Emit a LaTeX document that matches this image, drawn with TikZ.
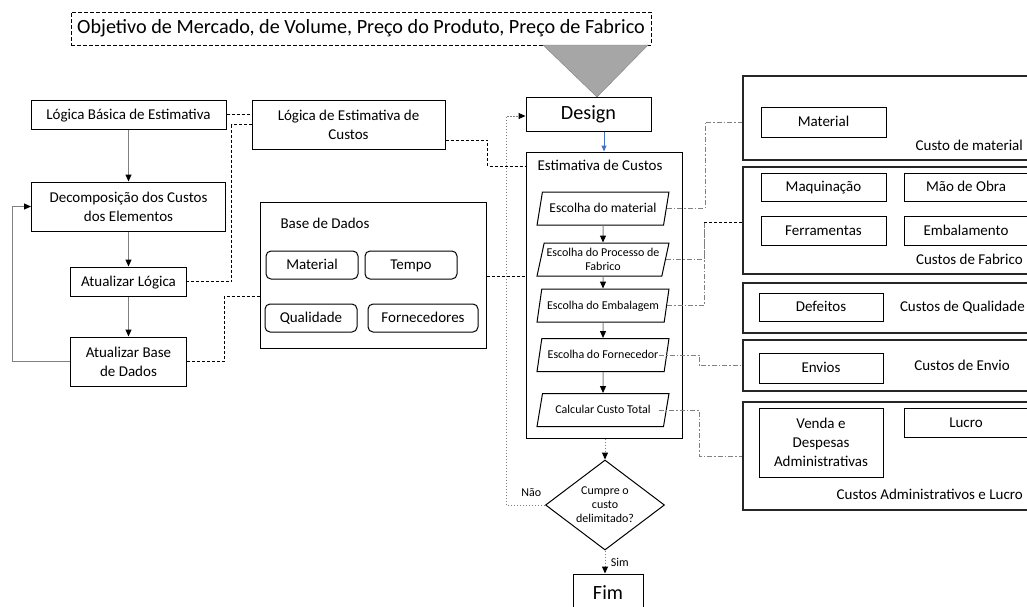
\documentclass[tikz,border=0pt]{standalone}
\usepackage{fontspec}
\setmainfont{Carlito}
\usetikzlibrary{arrows.meta, calc, positioning, shapes.geometric}
\definecolor{linhaCinza}{RGB}{128,128,128}
\definecolor{trianguloCinza}{RGB}{166,166,166}
\definecolor{setaAzul}{RGB}{68,114,196}

\tikzset{
  normal/.style={font=\fontsize{15}{18.8}\selectfont},
  pequena/.style={font=\fontsize{12}{14}\selectfont},
  grande/.style={font=\fontsize{20.2}{23}\selectfont},
  um/.style={text height=13pt, text depth=3.4pt},
  umP/.style={text height=10.6pt, text depth=2.8pt},
  caixa/.style={draw=black, line width=1pt, rectangle, align=center, inner sep=1pt, normal},
  caixaR/.style={caixa, um, rounded corners=5pt, minimum width=92, minimum height=28},
  grupo/.style={draw=black!85, line width=1.3pt, rectangle, minimum width=297},
  paralelo/.style={draw=black, line width=1pt, trapezium, trapezium left angle=74,
    trapezium right angle=106, trapezium stretches=true, align=center, inner sep=1pt,
    minimum width=132, minimum height=33, pequena},
  losango/.style={draw=black, line width=1pt, diamond, aspect=1.32, inner sep=0pt,
    minimum width=119, minimum height=90, align=center, pequena},
  seta/.style={-{Triangle[color=black, length=7pt, width=6pt]}},
  linhaSeta/.style={draw=linhaCinza, line width=1pt, seta},
  tracoPreto/.style={draw=black, line width=0.9pt, dash pattern=on 3pt off 2pt},
  tracoPonto/.style={draw=linhaCinza, line width=1pt, dash pattern=on 5pt off 2pt on 1.5pt off 2pt},
  pontilhado/.style={draw=linhaCinza, line width=1pt, dash pattern=on 1.5pt off 1.5pt}
}

\begin{document}
\begin{tikzpicture}[x=1pt, y=-1pt]
  \useasboundingbox (0,0) rectangle (1027,606);

  % 1. OBJETIVO E DESIGN
  \node[caixa, grande, dash pattern=on 4pt off 2pt, minimum width=580, minimum height=33]
    (objetivo) at (361,28.5) {Objetivo de Mercado, de Volume, Preço do Produto, Preço de Fabrico};
  \filldraw[fill=trianguloCinza, draw=linhaCinza] (543,45) -- (648,45) -- (597,97) -- cycle;
  \node[caixa, grande, minimum width=125, minimum height=34] (design) at (588.5,114) {Design};

  % 2. COLUNA ESQUERDA
  \node[caixa, um, minimum width=195, minimum height=29] (lbasica) at (128.5,114.5) {Lógica Básica de Estimativa};
  \node[caixa, minimum width=194, minimum height=49] (decomp) at (128.5,206.5) {Decomposição dos Custos\\dos Elementos};
  \node[caixa, um, minimum width=116, minimum height=29] (atlogica) at (128.5,281.5) {Atualizar Lógica};
  \node[caixa, minimum width=116, minimum height=49] (atbase) at (128.5,361.5) {Atualizar Base\\de Dados};
  \node[caixa, minimum width=193, minimum height=49] (lcustos) at (348.5,124.5) {Lógica de Estimativa de\\Custos};

  % Base de dados
  \node[caixa, minimum width=226, minimum height=146] (bdados) at (373,275) {};
  \node[normal, um, inner sep=0pt] (bdtitulo) at (325,224) {Base de Dados};
  \node[caixaR] (bdmaterial) at (312,265) {Material};
  \node[caixaR] (bdtempo) at (411,265) {Tempo};
  \node[caixaR] (bdqualidade) at (311,318) {Qualidade};
  \node[caixaR, minimum width=110] (bdfornec) at (423,318) {Fornecedores};

  % 3. ESTIMATIVA DE CUSTOS
  \node[caixa, minimum width=156, minimum height=286] (estim) at (604,295) {};
  \node[normal, um, inner sep=0pt] (esttitulo) at (600,166) {Estimativa de Custos};
  \node[paralelo, font=\fontsize{13.5}{15}\selectfont, text height=11.8pt, text depth=3.1pt] (p1) at (603,208.5) {Escolha do material};
  \node[paralelo] (p2) at (603,259.5) {Escolha do Processo de\\Fabrico};
  \node[paralelo, umP] (p3) at (603,305.5) {Escolha do Embalagem};
  \node[paralelo, umP] (p4) at (603,355) {Escolha do Fornecedor};
  \node[paralelo, umP] (p5) at (603,410) {Calcular Custo Total};
  \node[losango] (decisao) at (605,505) {Cumpre o\\custo\\delimitado?};
  \node[caixa, grande, minimum width=70, minimum height=38] (fim) at (608,593) {Fim};

  % 4. CAIXAS DE CUSTOS
  \node[grupo, minimum height=84] (cmat) at (891.5,118) {};
  \node[caixa, um, minimum width=125, minimum height=30] (imat) at (823.5,122) {Material};
  \node[normal, um, anchor=east, inner sep=0pt] (tmat) at (1023,146) {Custo de material};

  \node[grupo, minimum height=107] (cfab) at (891.5,220.5) {};
  \node[caixa, um, minimum width=125, minimum height=28] (imaq) at (823.5,187) {Maquinação};
  \node[caixa, um, minimum width=124, minimum height=28] (imao) at (966,187) {Mão de Obra};
  \node[caixa, um, minimum width=125, minimum height=29] (iferr) at (823.5,230.5) {Ferramentas};
  \node[caixa, um, minimum width=124, minimum height=29] (iemb) at (966,230.5) {Embalamento};
  \node[normal, um, anchor=east, inner sep=0pt] (tfab) at (1023,260) {Custos de Fabrico};

  \node[grupo, minimum height=50] (cqual) at (891.5,308) {};
  \node[caixa, um, minimum width=124, minimum height=28] (idef) at (821,307) {Defeitos};
  \node[normal, um, anchor=east, inner sep=0pt] (tqual) at (1025,307) {Custos de Qualidade};

  \node[grupo, minimum height=51] (cenv) at (891.5,365.5) {};
  \node[caixa, um, minimum width=124, minimum height=30] (ienv) at (821,368) {Envios};
  \node[normal, um, inner sep=0pt] (tenv) at (962,366) {Custos de Envio};

  \node[grupo, minimum height=108] (cadm) at (891.5,456) {};
  \node[caixa, minimum width=124, minimum height=69] (ivenda) at (821,442.5) {Venda e\\Despesas\\Administrativas};
  \node[caixa, um, minimum width=124, minimum height=29] (ilucro) at (966,422.5) {Lucro};
  \node[normal, um, anchor=east, inner sep=0pt] (tadm) at (1023,495) {Custos Administrativos e Lucro};

  % 5. LIGACOES
  \draw[linhaSeta] (lbasica) -- (decomp);
  \draw[linhaSeta] (decomp) -- (atlogica);
  \draw[linhaSeta] (atlogica) -- (atbase);
  \draw[linhaSeta] (atbase.west) -- ++(-58,0) |- (decomp.west);

  \draw[tracoPreto] (lbasica.east) -- (lbasica.east -| lcustos.west);
  \draw[tracoPreto] (lcustos.west) -- ++(-20,0) |- (atlogica.east);
  \draw[tracoPreto] ([yshift=-15.5pt]lcustos.east) -- ++(42,0) |- (estim.west |- esttitulo);
  \draw[tracoPreto] (atbase.east) -- ++(37,0) |- ([yshift=-21pt]bdados.west);
  \draw[tracoPreto] ([yshift=-1pt]bdados.east) -- ([yshift=-1pt]bdados.east -| estim.west);

  \draw[draw=setaAzul, line width=1pt, -{Triangle[length=6pt, width=5pt]}]
    (design.south -| estim.north) -- (estim.north);
  \draw[linhaSeta] (p1) -- (p2);
  \draw[linhaSeta] (p2) -- (p3);
  \draw[linhaSeta] (p3) -- (p4);
  \draw[linhaSeta] (p4) -- (p5);
  \draw[pontilhado, seta] (estim.south -| decisao) -- (decisao.north);
  \draw[pontilhado, seta] (decisao.south) -- (decisao.south |- fim.north)
    node[midway, right=2pt, pequena] {Sim};
  \draw[pontilhado, seta] (decisao.west) -- ++(-39,0) node[pos=0.35, above=5pt, pequena] {Não}
    |- ([yshift=-2pt]design.west);

  % ligacoes para os custos
  \coordinate (colA) at (705,0);
  \coordinate (colB) at (699,0);
  \coordinate (jfab) at (704,222);
  \draw[tracoPonto] (p1.east) -| (colA |- imat) -- (imat -| cmat.west);
  \draw[tracoPonto] (p2.east) -| (jfab);
  \draw[tracoPonto] (p3.east) -| (jfab);
  \draw[tracoPreto] (jfab) -- (jfab -| cfab.west);
  \draw[tracoPonto] ([xshift=-8pt]p4.east) -| (colB |- cenv.west) -- (cenv.west);
  \draw[tracoPonto] ([xshift=-8pt]p5.east) -| (colB |- cadm.west) -- (cadm.west);
\end{tikzpicture}
\end{document}
